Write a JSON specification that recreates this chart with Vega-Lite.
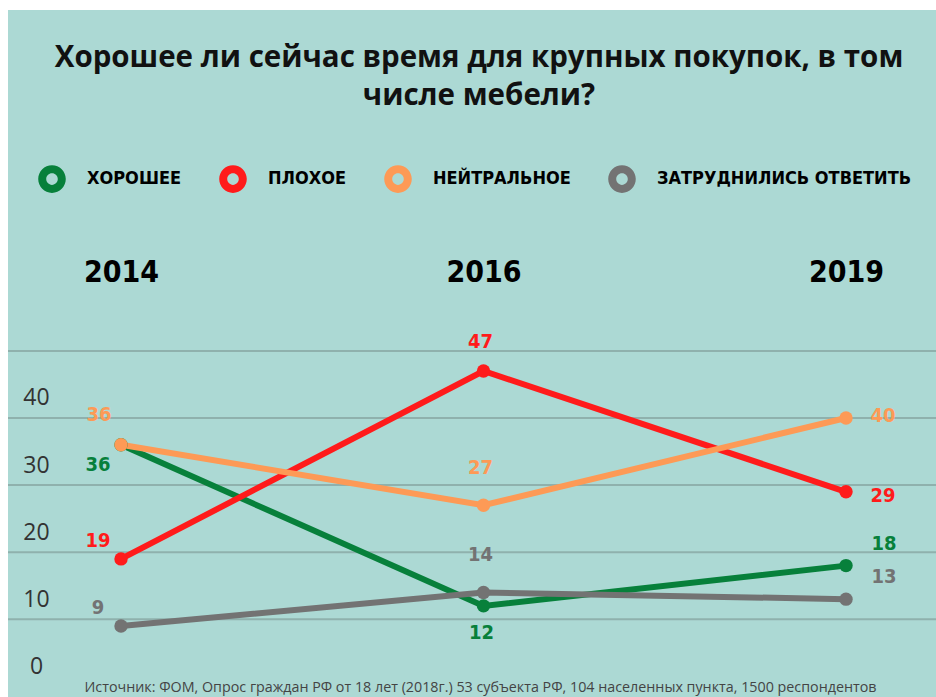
{
  "$schema": "https://vega.github.io/schema/vega-lite/v6.json",
  "width": 928,
  "height": 687,
  "padding": {"left": 8, "top": 10, "right": 0, "bottom": 0},
  "autosize": "none",
  "background": "white",
  "config": {"view": {"fill": "#acd9d4", "stroke": null}},
  "title": {
    "text": ["Хорошее ли сейчас время для крупных покупок, в том", "числе мебели?"],
    "font": "Open Sans",
    "fontSize": 29.5,
    "fontWeight": "bold",
    "color": "#111111",
    "anchor": "middle",
    "frame": "group",
    "baseline": "top",
    "offset": -101,
    "lineHeight": 38,
    "dx": 7
  },
  "data": {
    "values": [
      {"series": "ХОРОШЕЕ", "year": "2014", "value": 36},
      {"series": "ХОРОШЕЕ", "year": "2016", "value": 12},
      {"series": "ХОРОШЕЕ", "year": "2019", "value": 18},
      {"series": "ПЛОХОЕ", "year": "2014", "value": 19},
      {"series": "ПЛОХОЕ", "year": "2016", "value": 47},
      {"series": "ПЛОХОЕ", "year": "2019", "value": 29},
      {"series": "НЕЙТРАЛЬНОЕ", "year": "2014", "value": 36},
      {"series": "НЕЙТРАЛЬНОЕ", "year": "2016", "value": 27},
      {"series": "НЕЙТРАЛЬНОЕ", "year": "2019", "value": 40},
      {"series": "ЗАТРУДНИЛИСЬ ОТВЕТИТЬ", "year": "2014", "value": 9},
      {"series": "ЗАТРУДНИЛИСЬ ОТВЕТИТЬ", "year": "2016", "value": 14},
      {"series": "ЗАТРУДНИЛИСЬ ОТВЕТИТЬ", "year": "2019", "value": 13}
    ]
  },
  "encoding": {
    "y": {
      "field": "value",
      "type": "quantitative",
      "scale": {"domain": [-1.58, 100.8], "nice": false, "zero": false},
      "axis": {
        "values": [0, 10, 20, 30, 40],
        "grid": false,
        "domain": false,
        "ticks": false,
        "labelAlign": "center",
        "labelBaseline": "middle",
        "labelPadding": 0,
        "offset": -28,
        "labelOffset": -20,
        "labelFont": "Open Sans",
        "labelFontSize": 23,
        "labelColor": "#333333",
        "title": null
      }
    }
  },
  "layer": [
    {
      "data": {"values": [{"value": 10}, {"value": 20}, {"value": 30}, {"value": 40}, {"value": 50}]},
      "mark": {"type": "rule", "color": "#8fb1ad", "strokeWidth": 2}
    },
    {
      "encoding": {
        "x": {
          "field": "year",
          "type": "ordinal",
          "scale": {"type": "point", "domain": ["2014", "2016", "2019"], "range": [113, 838], "padding": 0},
          "axis": {
            "orient": "top",
            "offset": -262,
            "domain": false,
            "ticks": false,
            "labelPadding": 0,
            "labelBaseline": "middle",
            "labelAngle": 0,
            "labelFont": "DejaVu Sans Condensed",
            "labelFontWeight": "bold",
            "labelFontSize": 30,
            "labelColor": "#000000",
            "title": "Источник: ФОМ, Опрос граждан РФ от 18 лет (2018г.) 53 субъекта РФ, 104 населенных пункта, 1500 респондентов",
            "titleX": 472,
            "titleY": 415,
            "titleBaseline": "middle",
            "titleAlign": "center",
            "titleFont": "Open Sans",
            "titleFontSize": 14.3,
            "titleFontWeight": "normal",
            "titleColor": "#444444"
          }
        },
        "color": {
          "field": "series",
          "type": "nominal",
          "scale": {
            "domain": ["ХОРОШЕЕ", "ПЛОХОЕ", "НЕЙТРАЛЬНОЕ", "ЗАТРУДНИЛИСЬ ОТВЕТИТЬ"],
            "range": ["#07803b", "#ff1b1b", "#fd9a56", "#737373"]
          }
        }
      },
      "layer": [
        {
          "mark": {"type": "line", "strokeWidth": 6},
          "encoding": {
            "color": {
              "field": "series",
              "type": "nominal",
              "legend": {
                "orient": "none",
                "legendX": 30,
                "legendY": 155,
                "direction": "horizontal",
                "title": null,
                "symbolType": "M -1 0 A 1 1 0 1 0 1 0 A 1 1 0 1 0 -1 0 Z M -0.42 0 A 0.42 0.42 0 1 1 0.42 0 A 0.42 0.42 0 1 1 -0.42 0 Z",
                "symbolSize": 760,
                "symbolStrokeWidth": 0,
                "labelFont": "DejaVu Sans Condensed",
                "labelFontWeight": "bold",
                "labelFontSize": 18,
                "labelColor": "#000000",
                "labelOffset": 21,
                "labelLimit": 400,
                "columnPadding": 37,
                "encode": {
                  "symbols": {
                    "update": {
                      "fill": {"scale": "color", "field": "value"},
                      "strokeWidth": {"value": 0}
                    }
                  }
                }
              }
            }
          }
        },
        {"mark": {"type": "point", "filled": true, "size": 180, "opacity": 1}, "encoding": {"color": {"field": "series", "type": "nominal", "legend": null}}},
        {
          "transform": [{"filter": "datum.year == '2014' && datum.series == 'НЕЙТРАЛЬНОЕ'"}],
          "mark": {"type": "text", "dx": -22, "dy": -30, "font": "DejaVu Sans Condensed", "fontWeight": "bold", "fontSize": 20},
          "encoding": {"text": {"field": "value"}, "color": {"field": "series", "type": "nominal", "legend": null}}
        },
        {
          "transform": [{"filter": "datum.year == '2014' && datum.series == 'ХОРОШЕЕ'"}],
          "mark": {"type": "text", "dx": -23, "dy": 20, "font": "DejaVu Sans Condensed", "fontWeight": "bold", "fontSize": 20},
          "encoding": {"text": {"field": "value"}, "color": {"field": "series", "type": "nominal", "legend": null}}
        },
        {
          "transform": [{"filter": "datum.year == '2014' && (datum.series == 'ПЛОХОЕ' || datum.series == 'ЗАТРУДНИЛИСЬ ОТВЕТИТЬ')"}],
          "mark": {"type": "text", "dx": -23, "dy": -18, "font": "DejaVu Sans Condensed", "fontWeight": "bold", "fontSize": 20},
          "encoding": {"text": {"field": "value"}, "color": {"field": "series", "type": "nominal", "legend": null}}
        },
        {
          "transform": [{"filter": "datum.year == '2016' && datum.series == 'ПЛОХОЕ'"}],
          "mark": {"type": "text", "dx": -3, "dy": -29, "font": "DejaVu Sans Condensed", "fontWeight": "bold", "fontSize": 20},
          "encoding": {"text": {"field": "value"}, "color": {"field": "series", "type": "nominal", "legend": null}}
        },
        {
          "transform": [{"filter": "datum.year == '2016' && (datum.series == 'НЕЙТРАЛЬНОЕ' || datum.series == 'ЗАТРУДНИЛИСЬ ОТВЕТИТЬ')"}],
          "mark": {"type": "text", "dx": -3, "dy": -37, "font": "DejaVu Sans Condensed", "fontWeight": "bold", "fontSize": 20},
          "encoding": {"text": {"field": "value"}, "color": {"field": "series", "type": "nominal", "legend": null}}
        },
        {
          "transform": [{"filter": "datum.year == '2016' && datum.series == 'ХОРОШЕЕ'"}],
          "mark": {"type": "text", "dx": -2, "dy": 27, "font": "DejaVu Sans Condensed", "fontWeight": "bold", "fontSize": 20},
          "encoding": {"text": {"field": "value"}, "color": {"field": "series", "type": "nominal", "legend": null}}
        },
        {
          "transform": [{"filter": "datum.year == '2019' && datum.series == 'НЕЙТРАЛЬНОЕ'"}],
          "mark": {"type": "text", "dx": 37, "dy": -2, "font": "DejaVu Sans Condensed", "fontWeight": "bold", "fontSize": 20},
          "encoding": {"text": {"field": "value"}, "color": {"field": "series", "type": "nominal", "legend": null}}
        },
        {
          "transform": [{"filter": "datum.year == '2019' && datum.series == 'ПЛОХОЕ'"}],
          "mark": {"type": "text", "dx": 37, "dy": 4, "font": "DejaVu Sans Condensed", "fontWeight": "bold", "fontSize": 20},
          "encoding": {"text": {"field": "value"}, "color": {"field": "series", "type": "nominal", "legend": null}}
        },
        {
          "transform": [{"filter": "datum.year == '2019' && (datum.series == 'ХОРОШЕЕ' || datum.series == 'ЗАТРУДНИЛИСЬ ОТВЕТИТЬ')"}],
          "mark": {"type": "text", "dx": 38, "dy": -22, "font": "DejaVu Sans Condensed", "fontWeight": "bold", "fontSize": 20},
          "encoding": {"text": {"field": "value"}, "color": {"field": "series", "type": "nominal", "legend": null}}
        }
      ]
    }
  ]
}
